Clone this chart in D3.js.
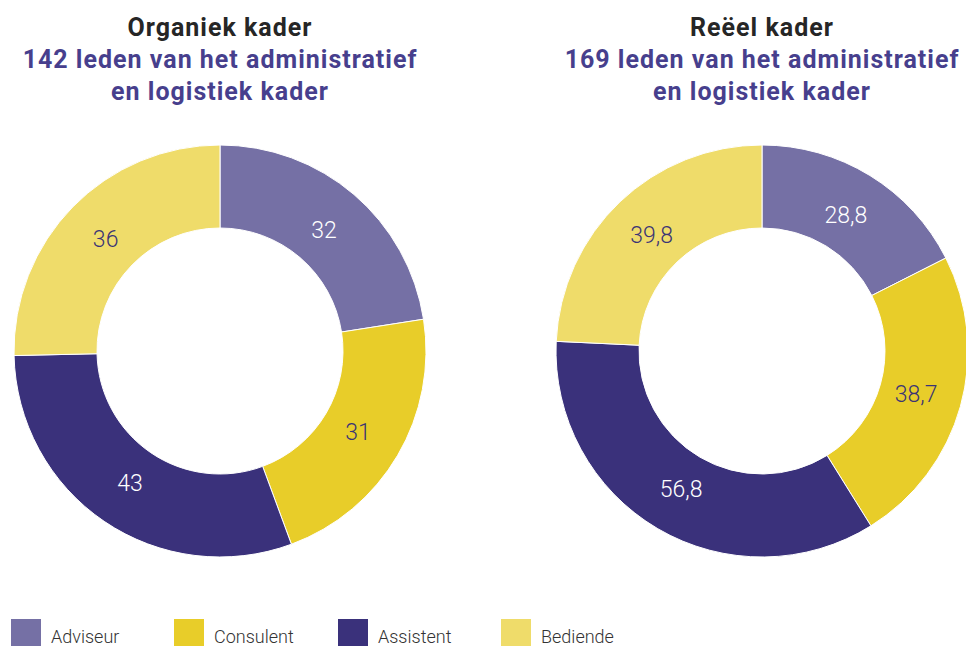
<html>
<head>
  <style>
	body{ margin:0; background:#fff }
	.title{ font-family:Roboto, sans-serif; font-weight:bold; font-size:25px; letter-spacing:1px; fill:#262626 }
	.sub{ font-family:Roboto, sans-serif; font-weight:bold; font-size:25px; letter-spacing:1px; fill:#473f8d }
	.lbl{ font-family:Roboto, sans-serif; font-weight:300; font-size:23px }
	.leg{ font-family:Roboto, sans-serif; font-weight:300; font-size:18px; fill:#333 }
  </style>
</head>
<body>
	<div id="chart"></div>
	<script src="https://d3js.org/d3.v7.min.js"></script>
	<script>
	  (function () {
		  var categories = ['Adviseur', 'Consulent', 'Assistent', 'Bediende'];
		  var colors     = ['#7570a5', '#e8cd29', '#3a317b', '#efdc6a'];
		  var textColors = ['#ffffff', '#3b3475', '#ffffff', '#3b3475'];
		  var organiek   = [32, 31, 43, 36];
		  var reeel      = [28.8, 38.7, 56.8, 39.8];
		  var titles     = ['Organiek kader', 'Reëel kader'];
		  var subtitles  = [
		    ['142 leden van het administratief', 'en logistiek kader'],
		    ['169 leden van het administratief', 'en logistiek kader']
		  ];

		  var
		    width  = 966,
		    height = 646,
		    rOut   = 206,
		    rIn    = 123,
		    cy     = 351,
		    centers = [220, 762];

		  var svg = d3.select('#chart').append('svg')
		    .attr('width', width)
		    .attr('height', height);

		  var pie = d3.pie().sort(null).value(function (d) { return d; });
		  var arc = d3.arc().innerRadius(rIn).outerRadius(rOut);
		  var lblArc = d3.arc().innerRadius(160).outerRadius(160);
		  var fmt = function (v) { return String(v).replace('.', ','); };

		  [organiek, reeel].forEach(function (data, k) {
		    var cx = centers[k];

		    svg.append('text')                       // title
		      .attr('class', 'title')
		      .attr('x', cx).attr('y', 36)
		      .attr('text-anchor', 'middle')
		      .text(titles[k]);

		    subtitles[k].forEach(function (s, j) {
		      svg.append('text')
		        .attr('class', 'sub')
		        .attr('x', cx).attr('y', 68 + j * 32)
		        .attr('text-anchor', 'middle')
		        .text(s);
		    });

		    var g = svg.append('g').attr('transform', 'translate(' + cx + ',' + cy + ')');
		    var arcs = pie(data);

		    g.selectAll('path')
		      .data(arcs)
		      .enter().append('path')
		      .attr('d', arc)
		      .attr('fill', function (d, i) { return colors[i]; })
		      .attr('stroke', '#fff')
		      .attr('stroke-width', 1);

		    g.selectAll('text')
		      .data(arcs)
		      .enter().append('text')
		      .attr('class', 'lbl')
		      .attr('transform', function (d) { return 'translate(' + lblArc.centroid(d) + ')'; })
		      .attr('dy', '0.35em')
		      .attr('text-anchor', 'middle')
		      .attr('fill', function (d, i) { return textColors[i]; })
		      .text(function (d) { return fmt(d.data); });
		  });

		  // legend
		  var legX = [11, 174, 338, 501];
		  var leg = svg.append('g');
		  categories.forEach(function (c, i) {
		    leg.append('rect')
		      .attr('x', legX[i]).attr('y', 619)
		      .attr('width', 30).attr('height', 27)
		      .attr('fill', colors[i]);
		    leg.append('text')
		      .attr('class', 'leg')
		      .attr('x', legX[i] + 40).attr('y', 643)
		      .text(c);
		  });
		})();
	</script>
</body>
</html>
